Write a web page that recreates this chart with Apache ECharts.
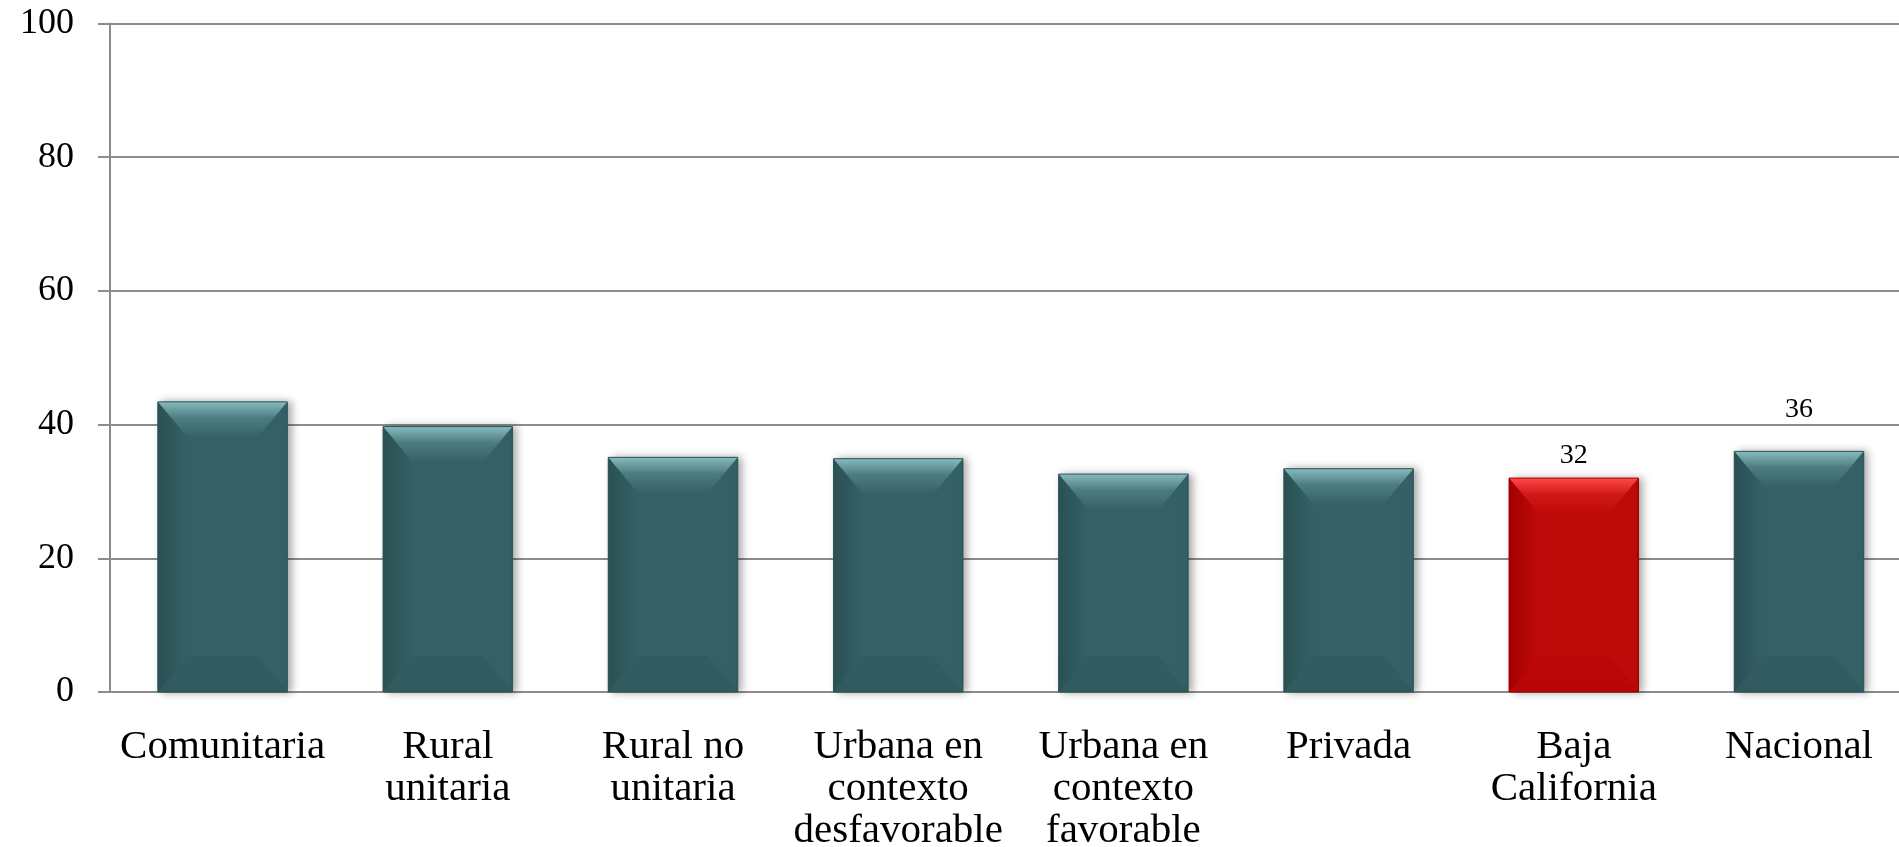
<!DOCTYPE html>
<html>
<head>
<meta charset="utf-8">
<script src="https://cdn.jsdelivr.net/npm/echarts@6/dist/echarts.min.js"></script>
<style>
html,body{margin:0;padding:0;background:#fff;overflow:hidden;}
#chart{width:1899px;height:847px;}
</style>
</head>
<body>
<div id="chart"></div>
<script>
// ---- data ----
const categories = ["Comunitaria", "Rural\nunitaria", "Rural no\nunitaria", "Urbana en\ncontexto\ndesfavorable", "Urbana en\ncontexto\nfavorable", "Privada", "Baja\nCalifornia", "Nacional"];
const values = [43.4, 39.7, 35.1, 34.9, 32.6, 33.4, 32, 36];
const labeledCategories = ["Baja\nCalifornia", "Nacional"];
const highlightCategory = "Baja\nCalifornia";
const yTicks = [0, 20, 40, 60, 80, 100];

// ---- styles ----
const FONT = "'Liberation Serif', 'Times New Roman', serif";
const teal = {main: '#356166', top: '#86bbbe', topMid: '#4d7c80', left: '#2a5053', bottom: '#30595d', border: '#2d5659'};
const red  = {main: '#bf0a0a', top: '#ff4a4a', topMid: '#d01818', left: '#a30000', bottom: '#b70404', border: '#a00000'};
const labelGap = {"Baja\nCalifornia": 8, "Nacional": 28};
const BAR_RATIO = 0.575;

const chart = echarts.init(document.getElementById('chart'), null, {renderer: 'canvas', width: 1899, height: 847});

const barData = values.map((v, i) => {
  const c = categories[i] === highlightCategory ? red : teal;
  const item = {
    value: v,
    itemStyle: {color: c.main, borderColor: c.border, borderWidth: 1}
  };
  if (labeledCategories.includes(categories[i])) {
    item.label = {show: true, position: 'top', distance: labelGap[categories[i]] || 8,
      formatter: (p) => Math.round(p.value), fontFamily: FONT, fontSize: 28, color: '#000'};
  }
  return item;
});

const bevelData = values.map((v, i) => [i, v]);

function renderBevel(params, api) {
  const idx = api.value(0);
  const val = api.value(1);
  const c = categories[idx] === highlightCategory ? red : teal;
  const topPt = api.coord([idx, val]);
  const botPt = api.coord([idx, 0]);
  const w = api.size([1, 0])[0] * BAR_RATIO;
  const x0 = topPt[0] - w / 2, x1 = topPt[0] + w / 2;
  const y0 = topPt[1], yb = botPt[1];
  const bh = 30, bv = 36;
  return {
    type: 'group',
    silent: true,
    children: [
      {
        type: 'polygon',
        shape: {points: [[x0, y0], [x0 + bh, y0 + bv], [x0 + bh, yb - bv], [x0, yb]]},
        style: {fill: new echarts.graphic.LinearGradient(0, 0, 1, 0, [
          {offset: 0, color: c.left}, {offset: 1, color: c.main}])}
      },
      {
        type: 'polygon',
        shape: {points: [[x0, yb], [x1, yb], [x1 - bh, yb - bv], [x0 + bh, yb - bv]]},
        style: {fill: c.bottom, opacity: 0.6}
      },
      {
        type: 'polygon',
        shape: {points: [[x0, y0], [x1, y0], [x1 - bh, y0 + bv], [x0 + bh, y0 + bv]]},
        style: {fill: new echarts.graphic.LinearGradient(0, 0, 0, 1, [
          {offset: 0, color: c.top}, {offset: 0.45, color: c.topMid}, {offset: 1, color: c.main}])}
      },
      {
        type: 'rect',
        shape: {x: x0, y: y0, width: w, height: yb - y0},
        style: {fill: 'none', stroke: c.border, lineWidth: 1}
      }
    ]
  };
}

const option = {
  animation: false,
  backgroundColor: '#ffffff',
  grid: {left: 110, top: 23.5, width: 1801.6, height: 668.5, containLabel: false, outerBoundsMode: 'none'},
  xAxis: {
    type: 'category',
    data: categories,
    axisLine: {show: true, lineStyle: {color: '#8c8c8c', width: 2}},
    axisTick: {show: false},
    axisLabel: {interval: 0, margin: 34, fontFamily: FONT, fontSize: 41, lineHeight: 42, color: '#000', align: 'center'},
    splitLine: {show: false}
  },
  yAxis: {
    type: 'value',
    min: yTicks[0],
    max: yTicks[yTicks.length - 1],
    interval: yTicks[1] - yTicks[0],
    axisLine: {show: true, lineStyle: {color: '#8c8c8c', width: 2}},
    axisTick: {show: true, inside: false, length: 12, lineStyle: {color: '#8c8c8c', width: 2}},
    axisLabel: {margin: 36, fontFamily: FONT, fontSize: 36, color: '#000'},
    splitLine: {show: true, lineStyle: {color: '#8c8c8c', width: 2}}
  },
  series: [
    {
      type: 'bar',
      data: barData,
      barWidth: (BAR_RATIO * 100) + '%',
      itemStyle: {shadowBlur: 8, shadowOffsetX: 4, shadowOffsetY: 0, shadowColor: 'rgba(0,0,0,0.35)'},
      z: 2
    },
    {
      type: 'custom',
      data: bevelData,
      renderItem: renderBevel,
      silent: true,
      z: 3
    }
  ]
};
chart.setOption(option);
</script>
</body>
</html>
